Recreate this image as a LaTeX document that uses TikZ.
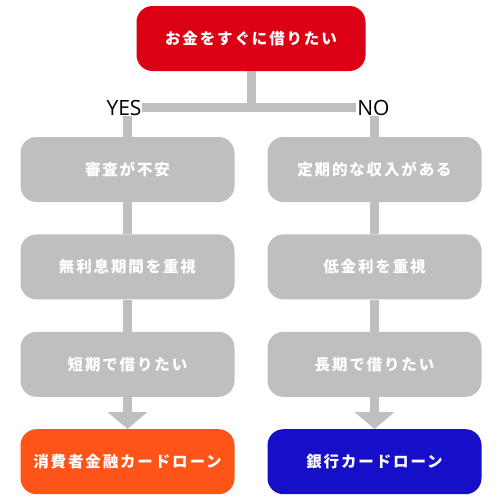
\documentclass[tikz,border=0pt]{standalone}
\usepackage{fontspec}
\setmainfont{Open Sans}
\newfontfamily\jpfont[LetterSpace=12]{Noto Sans CJK JP}
\usetikzlibrary{arrows.meta,positioning}
\definecolor{askred}{HTML}{DC0014}
\definecolor{loanorange}{HTML}{FF5418}
\definecolor{loanblue}{HTML}{160FC9}
\definecolor{boxgray}{HTML}{BFBFBF}

\begin{document}
\begin{tikzpicture}[
  x=1pt, y=-1pt,
  node distance=32pt,
  choice/.style={rectangle, rounded corners=16pt, fill=boxgray, text=white,
    minimum width=214pt, minimum height=65pt, inner sep=0pt,
    font=\jpfont\bfseries\fontsize{15.5}{18}\selectfont},
  answer/.style={choice, fill=#1},
  conn/.style={line width=9pt, draw=boxgray},
  tip/.style={conn, -{Triangle[width=39pt, length=17pt]}},
  branch/.style={fill=white, inner sep=1pt, font=\fontsize{21}{24}\selectfont},
]
  \useasboundingbox (0,0) rectangle (501,496);

  \node[choice, fill=askred, minimum width=229pt] (ask) at (251,38.5) {お金をすぐに借りたい};
  \coordinate (split) at (251,107.5);

  % YES column
  \node[choice] (l1) at (127.5,169.5) {審査が不安};
  \node[choice, below=of l1] (l2) {無利息期間を重視};
  \node[choice, below=of l2] (l3) {短期で借りたい};
  \node[answer=loanorange, below=of l3] (l4) {消費者金融カードローン};

  % NO column
  \node[choice] (r1) at (374.5,169.5) {定期的な収入がある};
  \node[choice, below=of r1] (r2) {低金利を重視};
  \node[choice, below=of r2] (r3) {長期で借りたい};
  \node[answer=loanblue, below=of r3] (r4) {銀行カードローン};

  \draw[conn] (ask) -- (split);
  \draw[conn, line join=miter] (l1) |- (split) -| (r1);
  \draw[conn] (l1) -- (l2);
  \draw[conn] (l2) -- (l3);
  \draw[tip]  (l3) -- (l4);
  \draw[conn] (r1) -- (r2);
  \draw[conn] (r2) -- (r3);
  \draw[tip]  (r3) -- (r4);

  \node[branch] (yes) at (124,107.5) {YES};
  \node[branch] (no)  at (373.5,107.5) {NO};
\end{tikzpicture}
\end{document}
